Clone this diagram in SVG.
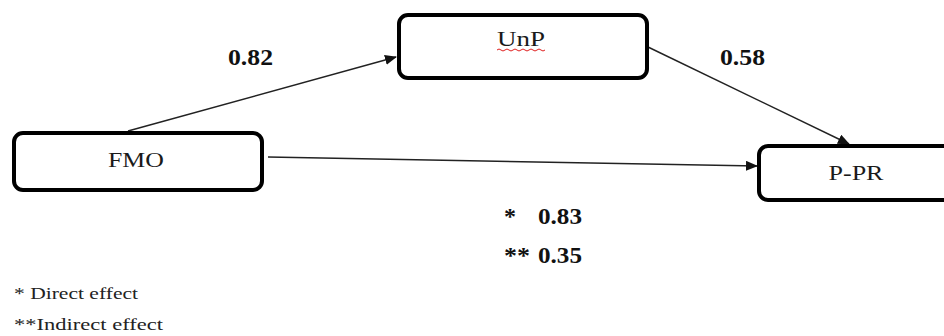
<svg xmlns="http://www.w3.org/2000/svg" width="944" height="336" viewBox="0 0 944 336">
<style>
.box{fill:#fff;stroke:#000;stroke-width:4}
.lbl{font-family:"Liberation Serif",serif;font-size:22px;fill:#1a1a1a;text-anchor:middle}
.num{font-family:"Liberation Serif",serif;font-size:24px;font-weight:bold;fill:#111}
.note{font-family:"Liberation Serif",serif;font-size:17px;fill:#222}
.edge{stroke:#222;stroke-width:1.5;fill:none;marker-end:url(#ah)}
</style>
<defs>
<marker id="ah" markerWidth="12" markerHeight="10" refX="11" refY="5" orient="auto" markerUnits="userSpaceOnUse">
<path d="M0,0 L12,5 L0,10 Z" fill="#111"/>
</marker>
</defs>
<rect width="944" height="336" fill="#fff"/>
<g id="connectors">
<line class="edge" x1="128" y1="131" x2="396" y2="57"/>
<line class="edge" x1="648" y1="47" x2="849" y2="144"/>
<line class="edge" x1="268" y1="157" x2="757" y2="166"/>
</g>
<g id="UnP">
<rect class="box" x="399" y="15" width="248" height="63" rx="9"/>
<text class="lbl" x="521" y="46" textLength="48" lengthAdjust="spacingAndGlyphs">UnP</text>
<path d="M497,50 q2,-2 4,0 t4,0 t4,0 t4,0 t4,0 t4,0 t4,0 t4,0 t4,0 t4,0 t4,0 t4,0" fill="none" stroke="#e02020" stroke-width="1"/>
</g>
<g id="FMO">
<rect class="box" x="14" y="133" width="248" height="57" rx="9"/>
<text class="lbl" x="136" y="167" textLength="56" lengthAdjust="spacingAndGlyphs">FMO</text>
</g>
<g id="P-PR">
<rect class="box" x="759" y="146" width="200" height="54" rx="9"/>
<text class="lbl" x="856" y="180" textLength="55" lengthAdjust="spacingAndGlyphs">P-PR</text>
</g>
<g id="labels">
<text class="num" x="228" y="65" textLength="45" lengthAdjust="spacingAndGlyphs">0.82</text>
<text class="num" x="720" y="65" textLength="45" lengthAdjust="spacingAndGlyphs">0.58</text>
<text class="num" x="504" y="224">*</text>
<text class="num" x="538" y="224" textLength="44" lengthAdjust="spacingAndGlyphs">0.83</text>
<text class="num" x="504" y="263" textLength="26" lengthAdjust="spacingAndGlyphs">**</text>
<text class="num" x="538" y="263" textLength="44" lengthAdjust="spacingAndGlyphs">0.35</text>
<text class="note" x="14" y="299" textLength="124" lengthAdjust="spacingAndGlyphs">* Direct effect</text>
<text class="note" x="14" y="330" textLength="149" lengthAdjust="spacingAndGlyphs">**Indirect effect</text>
</g>
</svg>
